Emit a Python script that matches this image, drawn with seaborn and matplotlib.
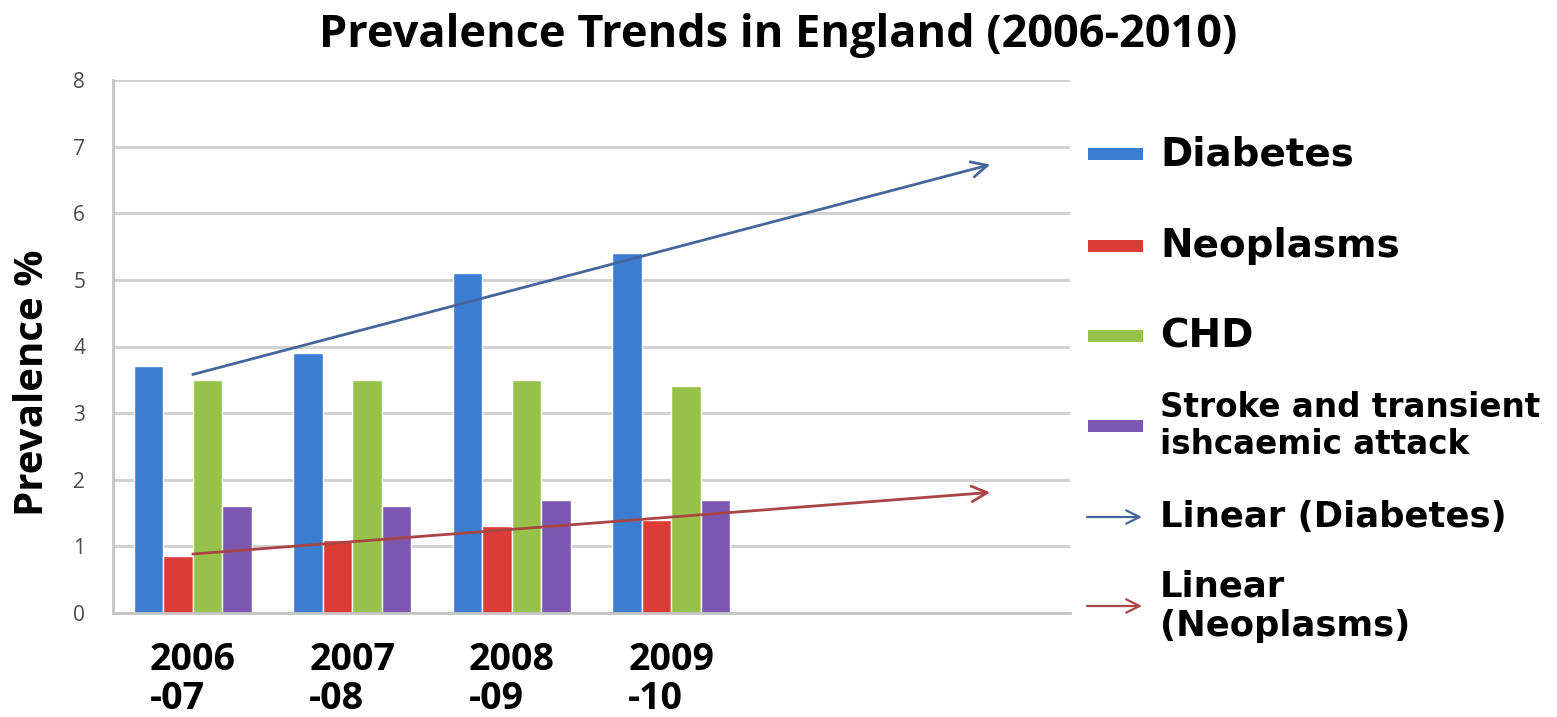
import numpy as np
import pandas as pd
import matplotlib
matplotlib.use("Agg")
import matplotlib.pyplot as plt
import seaborn as sns
from matplotlib.patches import Rectangle, FancyArrowPatch

# ---- data -------------------------------------------------------------
periods = ["2006\n-07", "2007\n-08", "2008\n-09", "2009\n-10"]
diabetes = [3.7, 3.9, 5.1, 5.4]
neoplasms = [0.85, 1.1, 1.3, 1.4]
chd = [3.5, 3.5, 3.5, 3.4]
stroke = [1.6, 1.6, 1.7, 1.7]
series_names = ["Diabetes", "Neoplasms", "CHD", "Stroke and transient\nishcaemic attack"]
trend_names = ["Linear (Diabetes)", "Linear\n(Neoplasms)"]
y_ticks = [0, 1, 2, 3, 4, 5, 6, 7, 8]
forecast_periods = 2

# ---- style ------------------------------------------------------------
bar_colors = ["#3b7dd0", "#dc3c36", "#97c24a", "#7d58b3"]
trend_colors = ["#46659c", "#a94545"]
grid_color = "#d2d2d2"
axis_color = "#c4c4c4"

sns.set_style("white")
plt.rcParams["font.family"] = ["Open Sans", "DejaVu Sans"]
plt.rcParams["text.color"] = "black"
plt.rcParams["xtick.color"] = axis_color
plt.rcParams["ytick.color"] = axis_color

W, H = 1557, 717
fig = plt.figure(figsize=(W / 100, H / 100), dpi=100)


def fx(x):
    return x / W


def fy(y):
    return 1 - y / H


ax = fig.add_axes([fx(113), fy(613), fx(1070) - fx(113), fy(80) - fy(613)])

df = pd.DataFrame({
    "period": periods * 4,
    "series": sum([[n] * len(periods) for n in series_names], []),
    "value": diabetes + neoplasms + chd + stroke,
})

sns.barplot(data=df, x="period", y="value", hue="series", order=periods,
            hue_order=series_names, palette=bar_colors, saturation=1,
            width=0.74, legend=False, ax=ax, zorder=2)

# linear trend lines with a two-period forecast
xs = np.arange(len(periods))
for vals, col in zip([diabetes, neoplasms], trend_colors):
    slope, intercept = np.polyfit(xs, vals, 1)
    x_end = xs[-1] + forecast_periods
    ax.annotate("", xy=(x_end, slope * x_end + intercept),
                xytext=(0, intercept),
                arrowprops=dict(arrowstyle="->", color=col, lw=2,
                                mutation_scale=28, shrinkA=0, shrinkB=0),
                zorder=4)

ax.set_xlim(-0.5, len(periods) - 0.5 + forecast_periods)
ax.set_ylim(0, 8)
ax.set_yticks(y_ticks)
ax.set_yticklabels([str(t) for t in y_ticks], color="#4a4a4a", fontsize=15)
ax.tick_params(axis="y", length=7, width=1.5, pad=13)

ax.set_xticks(xs)
ax.set_xticklabels(periods, fontsize=27, fontweight="bold", color="black",
                   multialignment="left", linespacing=1.05)
ax.tick_params(axis="x", which="major", length=0, pad=20)
ax.set_xticks(np.arange(-0.5, len(periods) + forecast_periods, 1), minor=True)
ax.tick_params(axis="x", which="minor", length=7, width=1.5)

ax.yaxis.grid(True, color=grid_color, lw=2.2, zorder=0)
ax.set_axisbelow(True)
for side in ["top", "right"]:
    ax.spines[side].set_visible(False)
for side in ["left", "bottom"]:
    ax.spines[side].set_color(axis_color)
    ax.spines[side].set_linewidth(2)
ax.set_xlabel("")
ax.set_ylabel("")

fig.text(fx(33), fy(383), "Prevalence %", rotation=90, fontsize=29,
         fontweight="bold", ha="center", va="center")

fig.text(0.5, fy(36), "Prevalence Trends in England (2006-2010)",
         fontsize=32.5, fontweight="bold", ha="center", va="center")

# ---- legend -----------------------------------------------------------
legend_font = ["DejaVu Sans"]
text_x = fx(1160)
bar_rows = [(154, 28), (246, 28), (336, 28), (426, 23.5)]
for (yc, size), name, col in zip(bar_rows, series_names, bar_colors):
    fig.add_artist(Rectangle((fx(1088), fy(yc + 6)), fx(1143) - fx(1088),
                             fy(yc - 6) - fy(yc + 6), transform=fig.transFigure,
                             color=col, lw=0))
    fig.text(text_x, fy(yc), name, fontsize=size, fontweight="bold",
             family=legend_font, ha="left", va="center", linespacing=1.15)

trend_rows = [(517, 25.5), (606, 25.5)]
for (yc, size), name, col in zip(trend_rows, trend_names, trend_colors):
    fig.add_artist(FancyArrowPatch((fx(1087), fy(yc)), (fx(1142), fy(yc)),
                                   transform=fig.transFigure, arrowstyle="->",
                                   color=col, lw=1.6, mutation_scale=24,
                                   shrinkA=0, shrinkB=0))
    fig.text(text_x, fy(yc), name, fontsize=size, fontweight="bold",
             family=legend_font, ha="left", va="center", linespacing=1.2)

fig.savefig("out.png", dpi=100)
